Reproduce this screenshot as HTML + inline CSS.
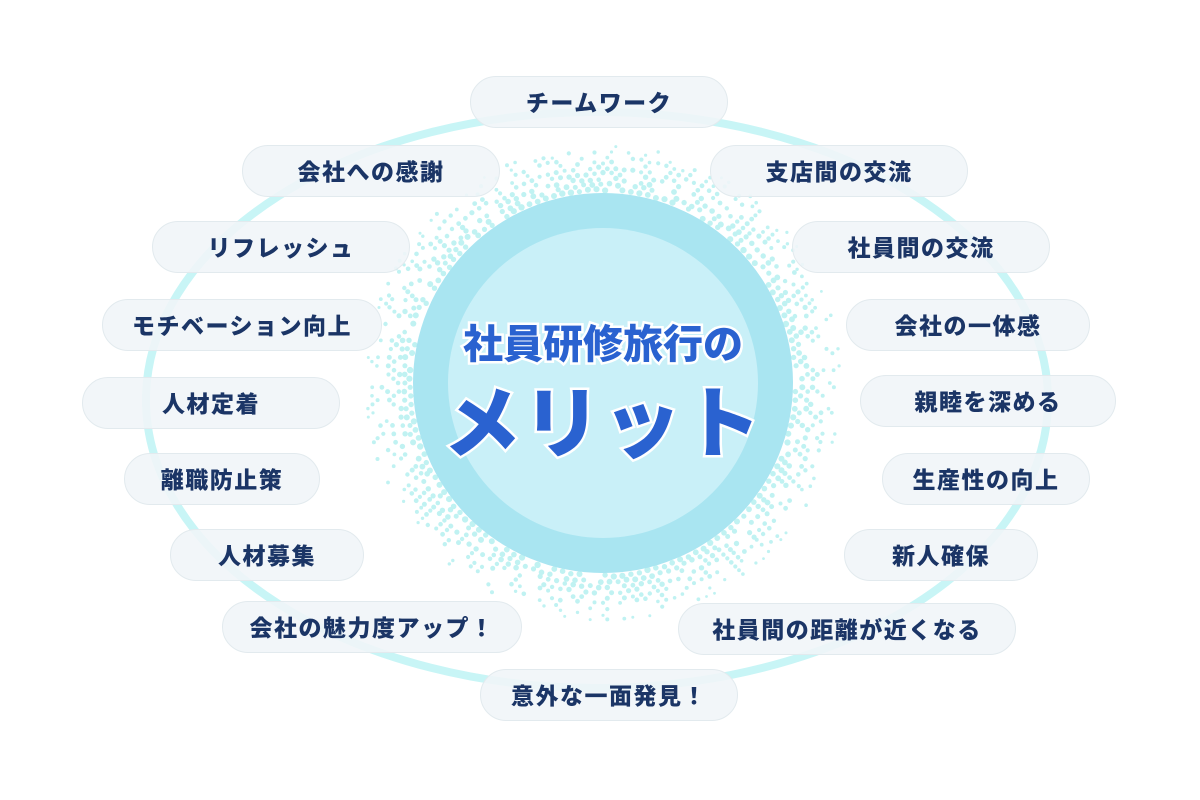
<!DOCTYPE html>
<html><head><meta charset="utf-8"><style>
html,body{margin:0;padding:0;background:#fff;}
#c{position:relative;width:1200px;height:800px;overflow:hidden;background:#fff;font-family:"Liberation Sans","Noto Sans CJK JP",sans-serif;}
.p{position:absolute;height:52px;line-height:52px;border-radius:27px;background:rgba(240,245,248,0.88);border:1.5px solid #e2eaee;text-align:center;font-weight:900;font-size:23px;color:#1b3566;box-sizing:border-box;letter-spacing:1.5px;}
svg{position:absolute;left:0;top:0;}
.t{position:absolute;left:0;width:1206px;text-align:center;font-weight:900;color:#2a62d0;paint-order:stroke fill;-webkit-text-stroke:5px #fff;}
</style></head><body><div id="c">
<svg width="1200" height="800" id="s">
<ellipse cx="597" cy="400" rx="451" ry="288" fill="none" stroke="#c8f5f6" stroke-width="8"/>
<g id="dots"></g>
<circle cx="603" cy="383" r="190" fill="#a9e5f1"/>
<circle cx="603" cy="383" r="155" fill="#c9f0f8"/>
</svg>
<div class="t" style="top:312px;font-size:40px;">社員研修旅行の</div>
<div class="t" style="top:362px;font-size:78px;letter-spacing:2px;">メリット</div>
<div class="p" style="left:470px;top:76px;width:258px;">チームワーク</div>
<div class="p" style="left:242px;top:145px;width:258px;">会社への感謝</div>
<div class="p" style="left:710px;top:145px;width:258px;">支店間の交流</div>
<div class="p" style="left:152px;top:221px;width:258px;">リフレッシュ</div>
<div class="p" style="left:792px;top:221px;width:258px;">社員間の交流</div>
<div class="p" style="left:102px;top:299px;width:280px;">モチベーション向上</div>
<div class="p" style="left:846px;top:299px;width:244px;">会社の一体感</div>
<div class="p" style="left:82px;top:377px;width:258px;">人材定着</div>
<div class="p" style="left:860px;top:375px;width:256px;">親睦を深める</div>
<div class="p" style="left:124px;top:453px;width:196px;">離職防止策</div>
<div class="p" style="left:882px;top:453px;width:208px;">生産性の向上</div>
<div class="p" style="left:170px;top:529px;width:194px;">人材募集</div>
<div class="p" style="left:844px;top:529px;width:194px;">新人確保</div>
<div class="p" style="left:222px;top:601px;width:300px;">会社の魅力度アップ！</div>
<div class="p" style="left:678px;top:603px;width:338px;">社員間の距離が近くなる</div>
<div class="p" style="left:480px;top:669px;width:258px;">意外な一面発見！</div>
</div>
<script>
(function(){
var g=document.getElementById('dots'),s='',seed=7;
function r(){seed=(seed*16807)%2147483647;return seed/2147483647;}
for(var ring=0;ring<9;ring++){
 var R=192+ring*5.5;
 var n=Math.floor(2*Math.PI*R/8.5);
 for(var i=0;i<n;i++){
  if(r()<0.15+ring*0.07)continue;
  var a=(i+(ring%2)*0.5)/n*2*Math.PI,rr=R+r()*2;
  var x=603+Math.cos(a)*rr,y=383+Math.sin(a)*rr;
  s+='<circle cx="'+x.toFixed(1)+'" cy="'+y.toFixed(1)+'" r="'+(2.6-ring*0.15+r()*0.6).toFixed(1)+'" fill="#c0f2f2"/>';
 }
}
g.innerHTML=s;
})();
</script>
</body></html>
